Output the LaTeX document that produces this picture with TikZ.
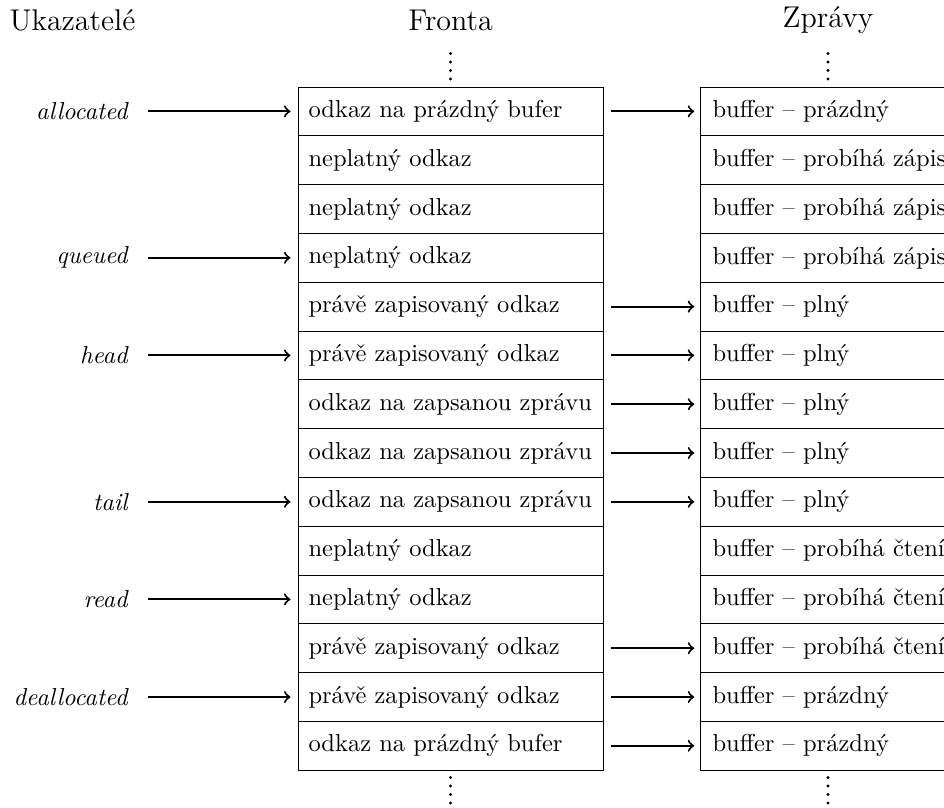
\documentclass[tikz,border=0pt]{standalone}
\usepackage{fontspec}
\newcommand{\rowtxt}[1]{\makebox[114pt][l]{#1}}
\begin{document}
\begin{tikzpicture}[x=0.4pt,y=-0.4pt,
  font=\fontsize{9.8pt}{12pt}\selectfont,
  rowbox/.style={draw,line width=0.4pt,rectangle,minimum height=19.52pt,
    inner xsep=4pt,inner ysep=0pt,anchor=west},
  ptrlabel/.style={anchor=east,font=\fontsize{9.8pt}{12pt}\selectfont\itshape},
  header/.style={font=\large},
  arr/.style={->,line width=0.8pt},
  dotmark/.style={fill=black,draw=none}]
\useasboundingbox (0,0) rectangle (944,807);
\node[header] (hU) at (72.5,20) {Ukazatelé};
\node[header] (hF) at (450.5,20) {Fronta};
\node[header] (hZ) at (828,20) {Zprávy};
\foreach \i/\ft/\bt in {
  0/odkaz na prázdný bufer/buffer – prázdný,
  1/neplatný odkaz/buffer – probíhá zápis,
  2/neplatný odkaz/buffer – probíhá zápis,
  3/neplatný odkaz/buffer – probíhá zápis,
  4/právě zapisovaný odkaz/buffer – plný,
  5/právě zapisovaný odkaz/buffer – plný,
  6/odkaz na zapsanou zprávu/buffer – plný,
  7/odkaz na zapsanou zprávu/buffer – plný,
  8/odkaz na zapsanou zprávu/buffer – plný,
  9/neplatný odkaz/buffer – probíhá čtení,
  10/neplatný odkaz/buffer – probíhá čtení,
  11/právě zapisovaný odkaz/buffer – probíhá čtení,
  12/právě zapisovaný odkaz/buffer – prázdný,
  13/odkaz na prázdný bufer/buffer – prázdný}{
  \node[rowbox] (f\i) at (298,{87+48.8*(\i+0.5)}) {\rowtxt{\ft}};
  \node[rowbox,inner xsep=4.8pt] (b\i) at (700,{87+48.8*(\i+0.5)}) {\rowtxt{\bt}};
}
\foreach \i/\lab in {0/allocated,3/queued,5/head,8/tail,10/read,12/deallocated}{
  \node[ptrlabel] (p\i) at (136.5,{87+48.8*(\i+0.5)}) {\lab};
  \draw[arr,shorten <=4.4pt,shorten >=3pt] (p\i.east) -- (f\i.west);
}
\foreach \i in {0,4,5,6,7,8,11,12,13}{
  \draw[arr,shorten <=2.6pt,shorten >=2.3pt] (f\i.east) -- (b\i.west);
}
\foreach \x in {450.5,828}{
  \foreach \y in {53.5,62,70.5,79}{
    \fill[dotmark] (\x,\y) circle[radius=0.65pt];
  }
  \foreach \y in {777.5,786,794.5,803}{
    \fill[dotmark] (\x,\y) circle[radius=0.65pt];
  }
}
\end{tikzpicture}
\end{document}
